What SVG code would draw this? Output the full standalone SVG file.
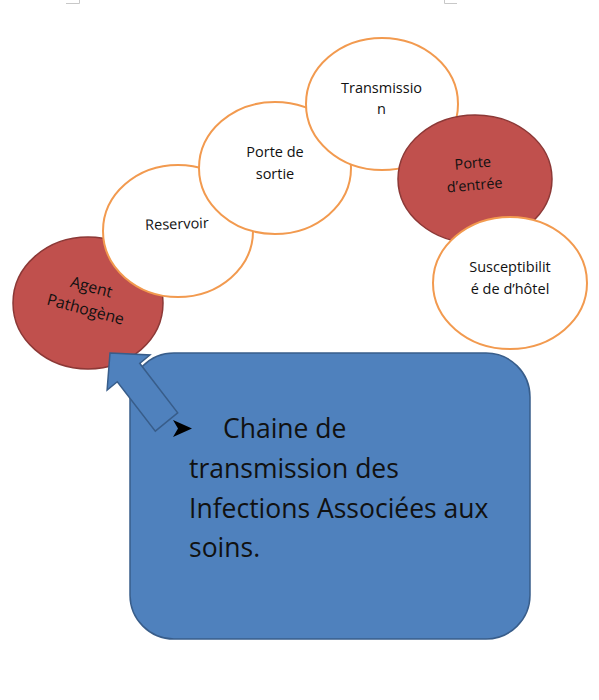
<svg xmlns="http://www.w3.org/2000/svg" width="599" height="700" viewBox="0 0 599 700">
<style>
.w{fill:#fff;stroke:#F29A4F;stroke-width:2}
.r{fill:#C0504D;stroke:#8C3836;stroke-width:1.5}
.b{fill:#4F81BD;stroke:#385D8A;stroke-width:1.5}
.t{font-family:"Open Sans","Noto Sans",sans-serif;font-size:14.5px;fill:#111;text-anchor:middle}
.big{font-family:"Open Sans","Noto Sans",sans-serif;font-size:26.5px;fill:#111}
.mark{stroke:#c8c8c8;stroke-width:1;fill:none}
</style>
<rect width="599" height="700" fill="#fff"/>
<path class="mark" d="M66 3.5H79.5V0M457 3.5H444.5V0"/>
<g id="agent">
<ellipse class="r" cx="88" cy="303" rx="75" ry="66"/>
<g transform="translate(88,300) rotate(15)">
<text class="t" x="0" y="-8" style="font-size:15.8px">Agent</text>
<text class="t" x="0" y="15" style="font-size:15.8px">Pathogène</text>
</g>
</g>
<g id="reservoir">
<ellipse class="w" cx="178" cy="231" rx="75" ry="66"/>
<text class="t" x="177" y="229" transform="rotate(-2 177 225)">Reservoir</text>
</g>
<g id="porte-sortie">
<ellipse class="w" cx="275" cy="168" rx="76" ry="66"/>
<text class="t" x="275" y="157">Porte de</text>
<text class="t" x="275" y="179">sortie</text>
</g>
<g id="transmission">
<ellipse class="w" cx="382" cy="104" rx="76" ry="66"/>
<text class="t" x="381.5" y="93">Transmissio</text>
<text class="t" x="381.5" y="114">n</text>
</g>
<g id="porte-entree">
<ellipse class="r" cx="475" cy="179" rx="77" ry="64"/>
<g transform="translate(474,177) rotate(-5)">
<text class="t" x="0" y="-9">Porte</text>
<text class="t" x="0" y="13">d’entrée</text>
</g>
</g>
<g id="susceptibilite">
<ellipse class="w" cx="510" cy="283" rx="77" ry="66"/>
<text class="t" x="510" y="272">Susceptibilit</text>
<text class="t" x="510" y="294">é de d’hôtel</text>
</g>
<g id="chaine">
<rect class="b" x="130" y="353" width="400" height="286" rx="44" ry="44"/>
<polygon points="173,420 192,428.5 173,437 178,428.5" fill="#000"/>
<text class="big" x="223" y="438">Chaine de</text>
<text class="big" x="189" y="478">transmission des</text>
<text class="big" x="189" y="518">Infections Associées aux</text>
<text class="big" x="189" y="557">soins.</text>
</g>
<g id="connectors">
<polygon class="b" points="110,353 149.9,355 139.7,363.3 177.7,412.8 155.3,431.2 117.3,381.7 107.1,390"/>
</g>
</svg>
